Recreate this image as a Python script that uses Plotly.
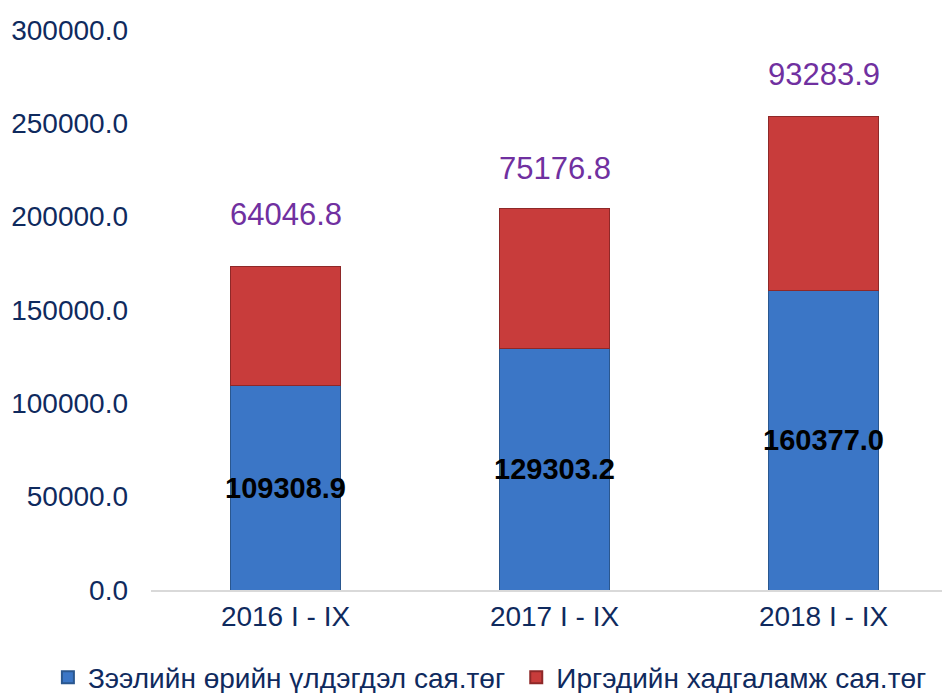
import plotly.graph_objects as go

categories = ["2016 I - IX", "2017 I - IX", "2018 I - IX"]
loans = [109308.9, 129303.2, 160377.0]
savings = [64046.8, 75176.8, 93283.9]
series_names = ["Зээлийн өрийн үлдэгдэл сая.төг", "Иргэдийн хадгаламж сая.төг"]
y_ticks = [0, 50000, 100000, 150000, 200000, 250000, 300000]

FONT = "Liberation Sans, Arial, sans-serif"
NAVY = "#0F2A5E"
top_label_shift = [32, 20, 23]  # pixel offsets of the total labels (style)

fig = go.Figure()
fig.add_trace(go.Bar(
    x=categories, y=loans, name=series_names[0],
    marker=dict(color="#3B76C6", line=dict(color="#2A578F", width=1)),
    width=0.41, legend="legend",
))
fig.add_trace(go.Bar(
    x=categories, y=savings, name=series_names[1],
    marker=dict(color="#C83C3B", line=dict(color="#8E2828", width=1)),
    width=0.41, legend="legend2",
))

for c, l, s, sh in zip(categories, loans, savings, top_label_shift):
    fig.add_annotation(x=c, y=l / 2, text=f"{l:.1f}", showarrow=False,
                       font=dict(family=FONT, size=29, color="black", weight="bold"),
                       yanchor="middle")
    fig.add_annotation(x=c, y=l + s, text=f"{s:.1f}", showarrow=False,
                       font=dict(family=FONT, size=31, color="#7030A0"),
                       yanchor="bottom", yshift=sh)

leg_common = dict(orientation="h", yref="container", xref="container",
                  y=0.034, yanchor="middle", xanchor="left",
                  font=dict(family=FONT, size=28, color=NAVY),
                  itemsizing="constant", itemwidth=30, bgcolor="rgba(0,0,0,0)")

fig.update_layout(
    barmode="stack",
    width=950, height=693,
    paper_bgcolor="white", plot_bgcolor="white",
    margin=dict(l=143, r=0, t=22, b=111, autoexpand=False),
    font=dict(family=FONT, color=NAVY),
    showlegend=True,
    legend=dict(x=0.042, **leg_common),
    legend2=dict(x=0.535, **leg_common),
)
fig.update_xaxes(range=[-0.5, 2.5], showgrid=False, showline=True,
                 linecolor="#D9D9D9", linewidth=2,
                 tickfont=dict(family=FONT, size=28, color=NAVY), ticks="")
fig.update_yaxes(range=[0, 300000], tickvals=y_ticks, tickformat=".1f",
                 showgrid=False, zeroline=False, showline=False,
                 tickfont=dict(family=FONT, size=28, color=NAVY),
                 ticklabelstandoff=22)

fig.write_html("out.html")
